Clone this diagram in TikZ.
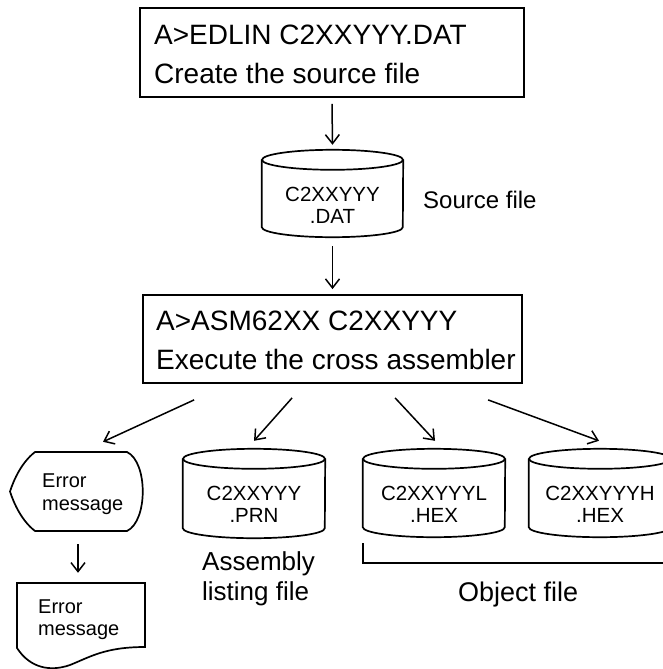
\documentclass[tikz,border=0pt]{standalone}
\usepackage{fontspec}
\setmainfont{Liberation Sans}
\usetikzlibrary{arrows.meta,calc}

% outline of a disk drum around an (invisible) node: #1 node name, #2 half width
\newcommand\drawdrum[2]{%
  \draw[outline] ([yshift=-10pt]#1.north west) -- ([yshift=10pt]#1.south west)
    arc[start angle=180,end angle=360,x radius=#2pt,y radius=10pt]
    -- ([yshift=-10pt]#1.north east);
  \draw[outline] ([yshift=-10pt]#1.north) ellipse[x radius=#2pt,y radius=10pt];
}

\begin{document}
\begin{tikzpicture}[x=1pt,y=-1pt,
  outline/.style={line width=1.7pt},
  arr/.style={line width=1.5pt,-{Straight Barb[length=9pt,width=14pt,line width=1.5pt]}},
  cmdbox/.style={draw,line width=1.8pt,inner sep=0pt},
  ghost/.style={inner sep=0pt},
  bigtext/.style={inner sep=0pt,anchor=base west,align=left,font=\fontsize{28}{38.5}\selectfont},
  drumtext/.style={inner sep=0pt,anchor=base,align=center,font=\fontsize{20.5}{22}\selectfont},
  smalltext/.style={inner sep=0pt,anchor=base west,align=left,font=\fontsize{20}{23}\selectfont},
  labeltext/.style={inner sep=0pt,anchor=base west,align=left,font=\fontsize{26}{30}\selectfont}
]
\useasboundingbox (0,0) rectangle (663,669);

% editor step (text anchors sit on the last line's baseline)
\node[cmdbox,minimum width=384pt,minimum height=89pt] (edlin) at (332,52.5) {};
\node[bigtext] (edlintxt) at (154,83) {A>EDLIN C2XXYYY.DAT\\Create the source file};

% source file drum
\node[ghost,minimum width=141pt,minimum height=87pt] (dat) at (332.5,193.5) {};
\drawdrum{dat}{70.5}
\node[drumtext] (dattxt) at (332.5,223) {C2XXYYY\\.DAT};
\node[inner sep=0pt,anchor=base west,font=\fontsize{24}{28}\selectfont] (srclabel) at (423,208) {Source file};

% assembler step
\node[cmdbox,minimum width=379pt,minimum height=88pt] (asm) at (332.5,339) {};
\node[bigtext] (asmtxt) at (156,369) {A>ASM62XX C2XXYYY\\Execute the cross assembler};

\draw[arr] ([yshift=-6pt]edlin.south) -- ([yshift=5pt]dat.north);
\draw[arr] ([yshift=-9pt]dat.south) -- ([yshift=5pt]asm.north);

% error message on the display
\node[ghost,minimum width=133pt,minimum height=79pt] (errdisp) at (76.5,491.5) {};
\draw[outline] (35,452) -- (127,452)
  .. controls (148,462) and (148,521) .. (127,531)
  -- (35,531)
  .. controls (22,521) and (14,504) .. (10,491.5)
  .. controls (14,479) and (22,462) .. (35,452) -- cycle;
\node[smalltext] (errdisptxt) at (42,510) {Error\\message};

% error message on paper
\node[ghost,minimum width=128pt,minimum height=65pt] (errdoc) at (81,615.5) {};
\draw[outline] (17,648) -- (17,583) -- (145,583) -- (145,647)
  .. controls (105,647) and (90,657) .. (70,665)
  .. controls (50,672) and (30,668) .. (17,648) -- cycle;
\node[smalltext,font=\fontsize{20}{22}\selectfont] (errdoctxt) at (38,635) {Error\\message};

% listing and object drums
\node[ghost,minimum width=142pt,minimum height=89pt] (prn) at (254,493.5) {};
\drawdrum{prn}{71}
\node[drumtext] (prntxt) at (254,522) {C2XXYYY\\.PRN};

\node[ghost,minimum width=142pt,minimum height=88pt] (hexl) at (434,493) {};
\drawdrum{hexl}{71}
\node[drumtext] (hexltxt) at (434,522) {C2XXYYYL\\.HEX};

\node[ghost,minimum width=142pt,minimum height=88pt] (hexh) at (600,493) {};
\drawdrum{hexh}{71}
\node[drumtext] (hexhtxt) at (600,522) {C2XXYYYH\\.HEX};

\node[labeltext] (prnlabel) at (202,600) {Assembly\\listing file};

% object file bracket
\coordinate (bracketend) at (690,563);
\draw[outline] ([yshift=-6pt]hexl.south west) |- (bracketend);
\node[inner sep=0pt,anchor=base west,font=\fontsize{27}{30}\selectfont] (objlabel) at (458,601) {Object file};

% outputs of the assembler
\draw[arr] ([shift={(52,16)}]asm.south west) -- ([shift={(26.5,-10)}]errdisp.north);
\draw[arr] ([shift={(150,14)}]asm.south west) -- ([yshift=8pt]prn.north);
\draw[arr] ([shift={(253,14)}]asm.south west) -- ([shift={(1,-8)}]hexl.north);
\draw[arr] ([shift={(346,16)}]asm.south west) -- ([shift={(-1,-8)}]hexh.north);
\draw[arr] ([shift={(1.5,13)}]errdisp.south) -- ([shift={(-3,-10)}]errdoc.north);
\end{tikzpicture}
\end{document}
